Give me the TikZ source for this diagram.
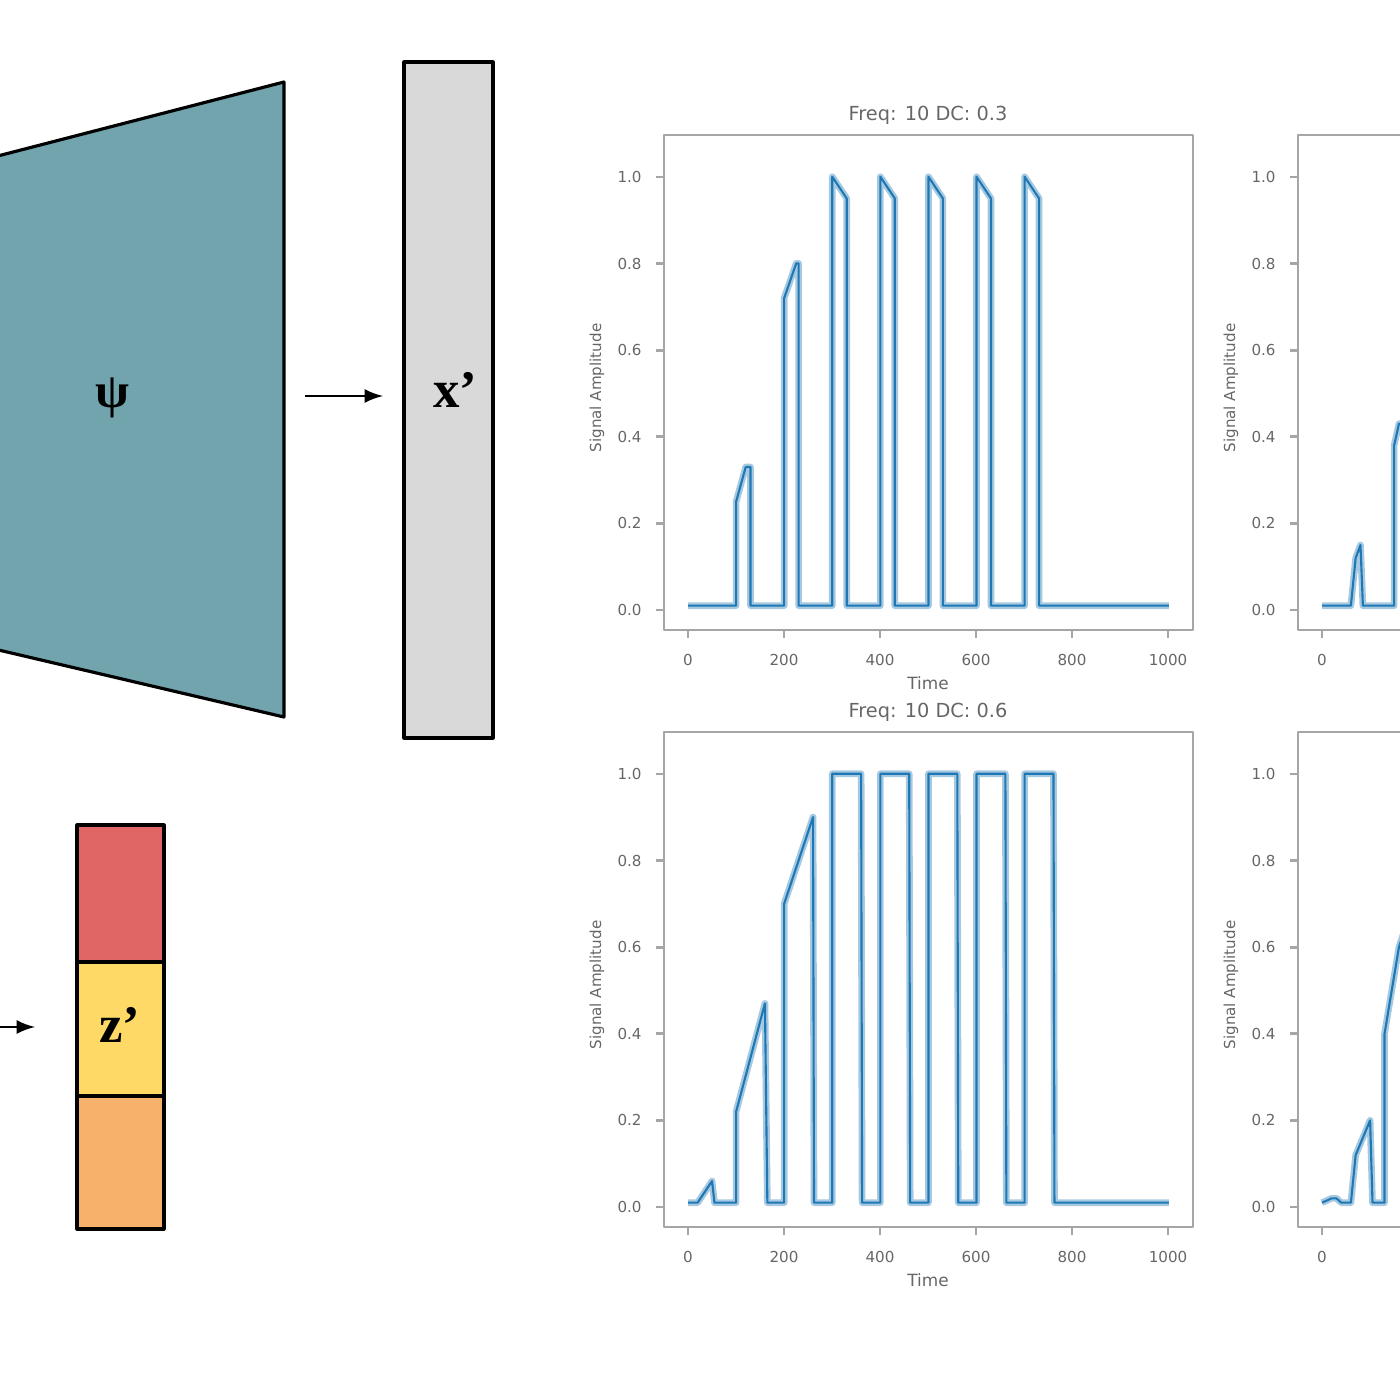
\documentclass[tikz,border=0pt]{standalone}
\usepackage{fontspec}
\setmainfont{Liberation Serif}
\newfontfamily\plotfont{DejaVu Sans}
\begin{document}
\begin{tikzpicture}[x=0.01cm,y=-0.01cm,line join=round,
  block/.style={draw=black,line width=0.9pt},
  arr/.style={-latex,line width=0.8pt},
  frame/.style={draw=gray!70,line width=0.8pt},
  tick/.style={font=\plotfont\fontsize{4.3}{4.3}\selectfont,text=gray!80!black},
  sig/.style={draw={rgb,255:red,31;green,119;blue,180},line width=0.6pt},
  sigsoft/.style={draw={rgb,255:red,31;green,119;blue,180},opacity=0.4,line width=1.9pt}]
\useasboundingbox (0,0) rectangle (1400,1400);
\clip (0,0) rectangle (1400,1400);

% encoder blocks
\draw[block,fill={rgb,255:red,114;green,164;blue,174}] (-10,158) -- (284,82) -- (284,717) -- (-10,648);
\node (psi) at (112,398) {\fontsize{14}{14}\selectfont\textbf{ψ}};
\draw[block,fill=gray!30] (404,62) rectangle (493,738);
\node (xp) at (455,390) {\fontsize{15}{15}\selectfont\textbf{x’}};
\coordinate (a1) at (305,396);
\draw[arr] (a1) -- (383,396);

\draw[block,fill={rgb,255:red,224;green,102;blue,102}] (77,825) rectangle (164,962);
\draw[block,fill={rgb,255:red,255;green,217;blue,102}] (77,962) rectangle (164,1096);
\draw[block,fill={rgb,255:red,246;green,178;blue,107}] (77,1096) rectangle (164,1229);
\node (zp) at (120,1025) {\fontsize{15}{15}\selectfont\textbf{z’}};
\coordinate (a2) at (-5,1027);
\draw[arr] (a2) -- (35,1027);

% plot frames
\foreach \px/\py in {688/610,688/1207,1322/610,1322/1207}{
  \draw[frame] (\px-24,\py-475) rectangle (\px+505,\py+20);
  \foreach \v in {0,2,4,6,8}{
    \draw[frame] (\px-24,\py-43.3*\v) -- ++(-8,0);
    \node[tick,anchor=east] at (\px-34,\py-43.3*\v) {0.\v};}
  \draw[frame] (\px-24,\py-433) -- ++(-8,0);
  \node[tick,anchor=east] at (\px-34,\py-433) {1.0};
  \foreach \t in {0,200,400,600,800,1000}{
    \draw[frame] (\px+0.48*\t,\py+20) -- ++(0,8);
    \node[tick,anchor=north] at (\px+0.48*\t,\py+32) {\t};}
  \node[tick,rotate=90] at (\px-91,\py-222) {Signal Amplitude};
}
\node[tick,font=\plotfont\fontsize{5.5}{5.5}\selectfont] (t1) at (928,115) {Freq: 10 DC: 0.3};
\node[tick,font=\plotfont\fontsize{5.5}{5.5}\selectfont] (t2) at (928,712) {Freq: 10 DC: 0.6};
\node[tick,font=\plotfont\fontsize{4.8}{4.8}\selectfont] (l1) at (928,683) {Time};
\node[tick,font=\plotfont\fontsize{4.8}{4.8}\selectfont] (l2) at (928,1280) {Time};

% signals
\begin{scope}[shift={(688,610)},x=0.0048cm,y=4.33cm]
\foreach \s in {sigsoft,sig}
\draw[\s] (0,.01) -- (100,.01) -- (100,.25) -- (120,.33) -- (130,.33) -- (130,.01) -- (200,.01) -- (200,.72) -- (225,.8) -- (230,.8) -- (230,.01)
  -- (300,.01) -- (300,1) -- (330,.95) -- (330,.01) -- (400,.01) -- (400,1) -- (430,.95) -- (430,.01) -- (500,.01) -- (500,1) -- (530,.95) -- (530,.01)
  -- (600,.01) -- (600,1) -- (630,.95) -- (630,.01) -- (700,.01) -- (700,1) -- (730,.95) -- (730,.01) -- (1000,.01);
\end{scope}
\begin{scope}[shift={(688,1207)},x=0.0048cm,y=4.33cm]
\foreach \s in {sigsoft,sig}
\draw[\s] (0,.01) -- (20,.01) -- (50,.06) -- (55,.01) -- (100,.01) -- (100,.22) -- (160,.47) -- (165,.01) -- (200,.01) -- (200,.7) -- (260,.9) -- (262,.01)
  -- (300,.01) -- (300,1) -- (360,1) -- (362,.01) -- (400,.01) -- (400,1) -- (460,1) -- (462,.01) -- (500,.01) -- (500,1) -- (560,1) -- (562,.01)
  -- (600,.01) -- (600,1) -- (660,1) -- (662,.01) -- (700,.01) -- (700,1) -- (760,1) -- (762,.01) -- (1000,.01);
\end{scope}
\begin{scope}[shift={(1322,610)},x=0.0048cm,y=4.33cm]
\foreach \s in {sigsoft,sig}
\draw[\s] (0,.01) -- (60,.01) -- (70,.12) -- (80,.15) -- (85,.01) -- (150,.01) -- (150,.38) -- (160,.43) -- (175,.43);
\end{scope}
\begin{scope}[shift={(1322,1207)},x=0.0048cm,y=4.33cm]
\foreach \s in {sigsoft,sig}
\draw[\s] (0,.01) -- (20,.02) -- (30,.02) -- (40,.01) -- (60,.01) -- (70,.12) -- (100,.2) -- (105,.01) -- (130,.01) -- (130,.4) -- (160,.6) -- (175,.65);
\end{scope}
\end{tikzpicture}
\end{document}
